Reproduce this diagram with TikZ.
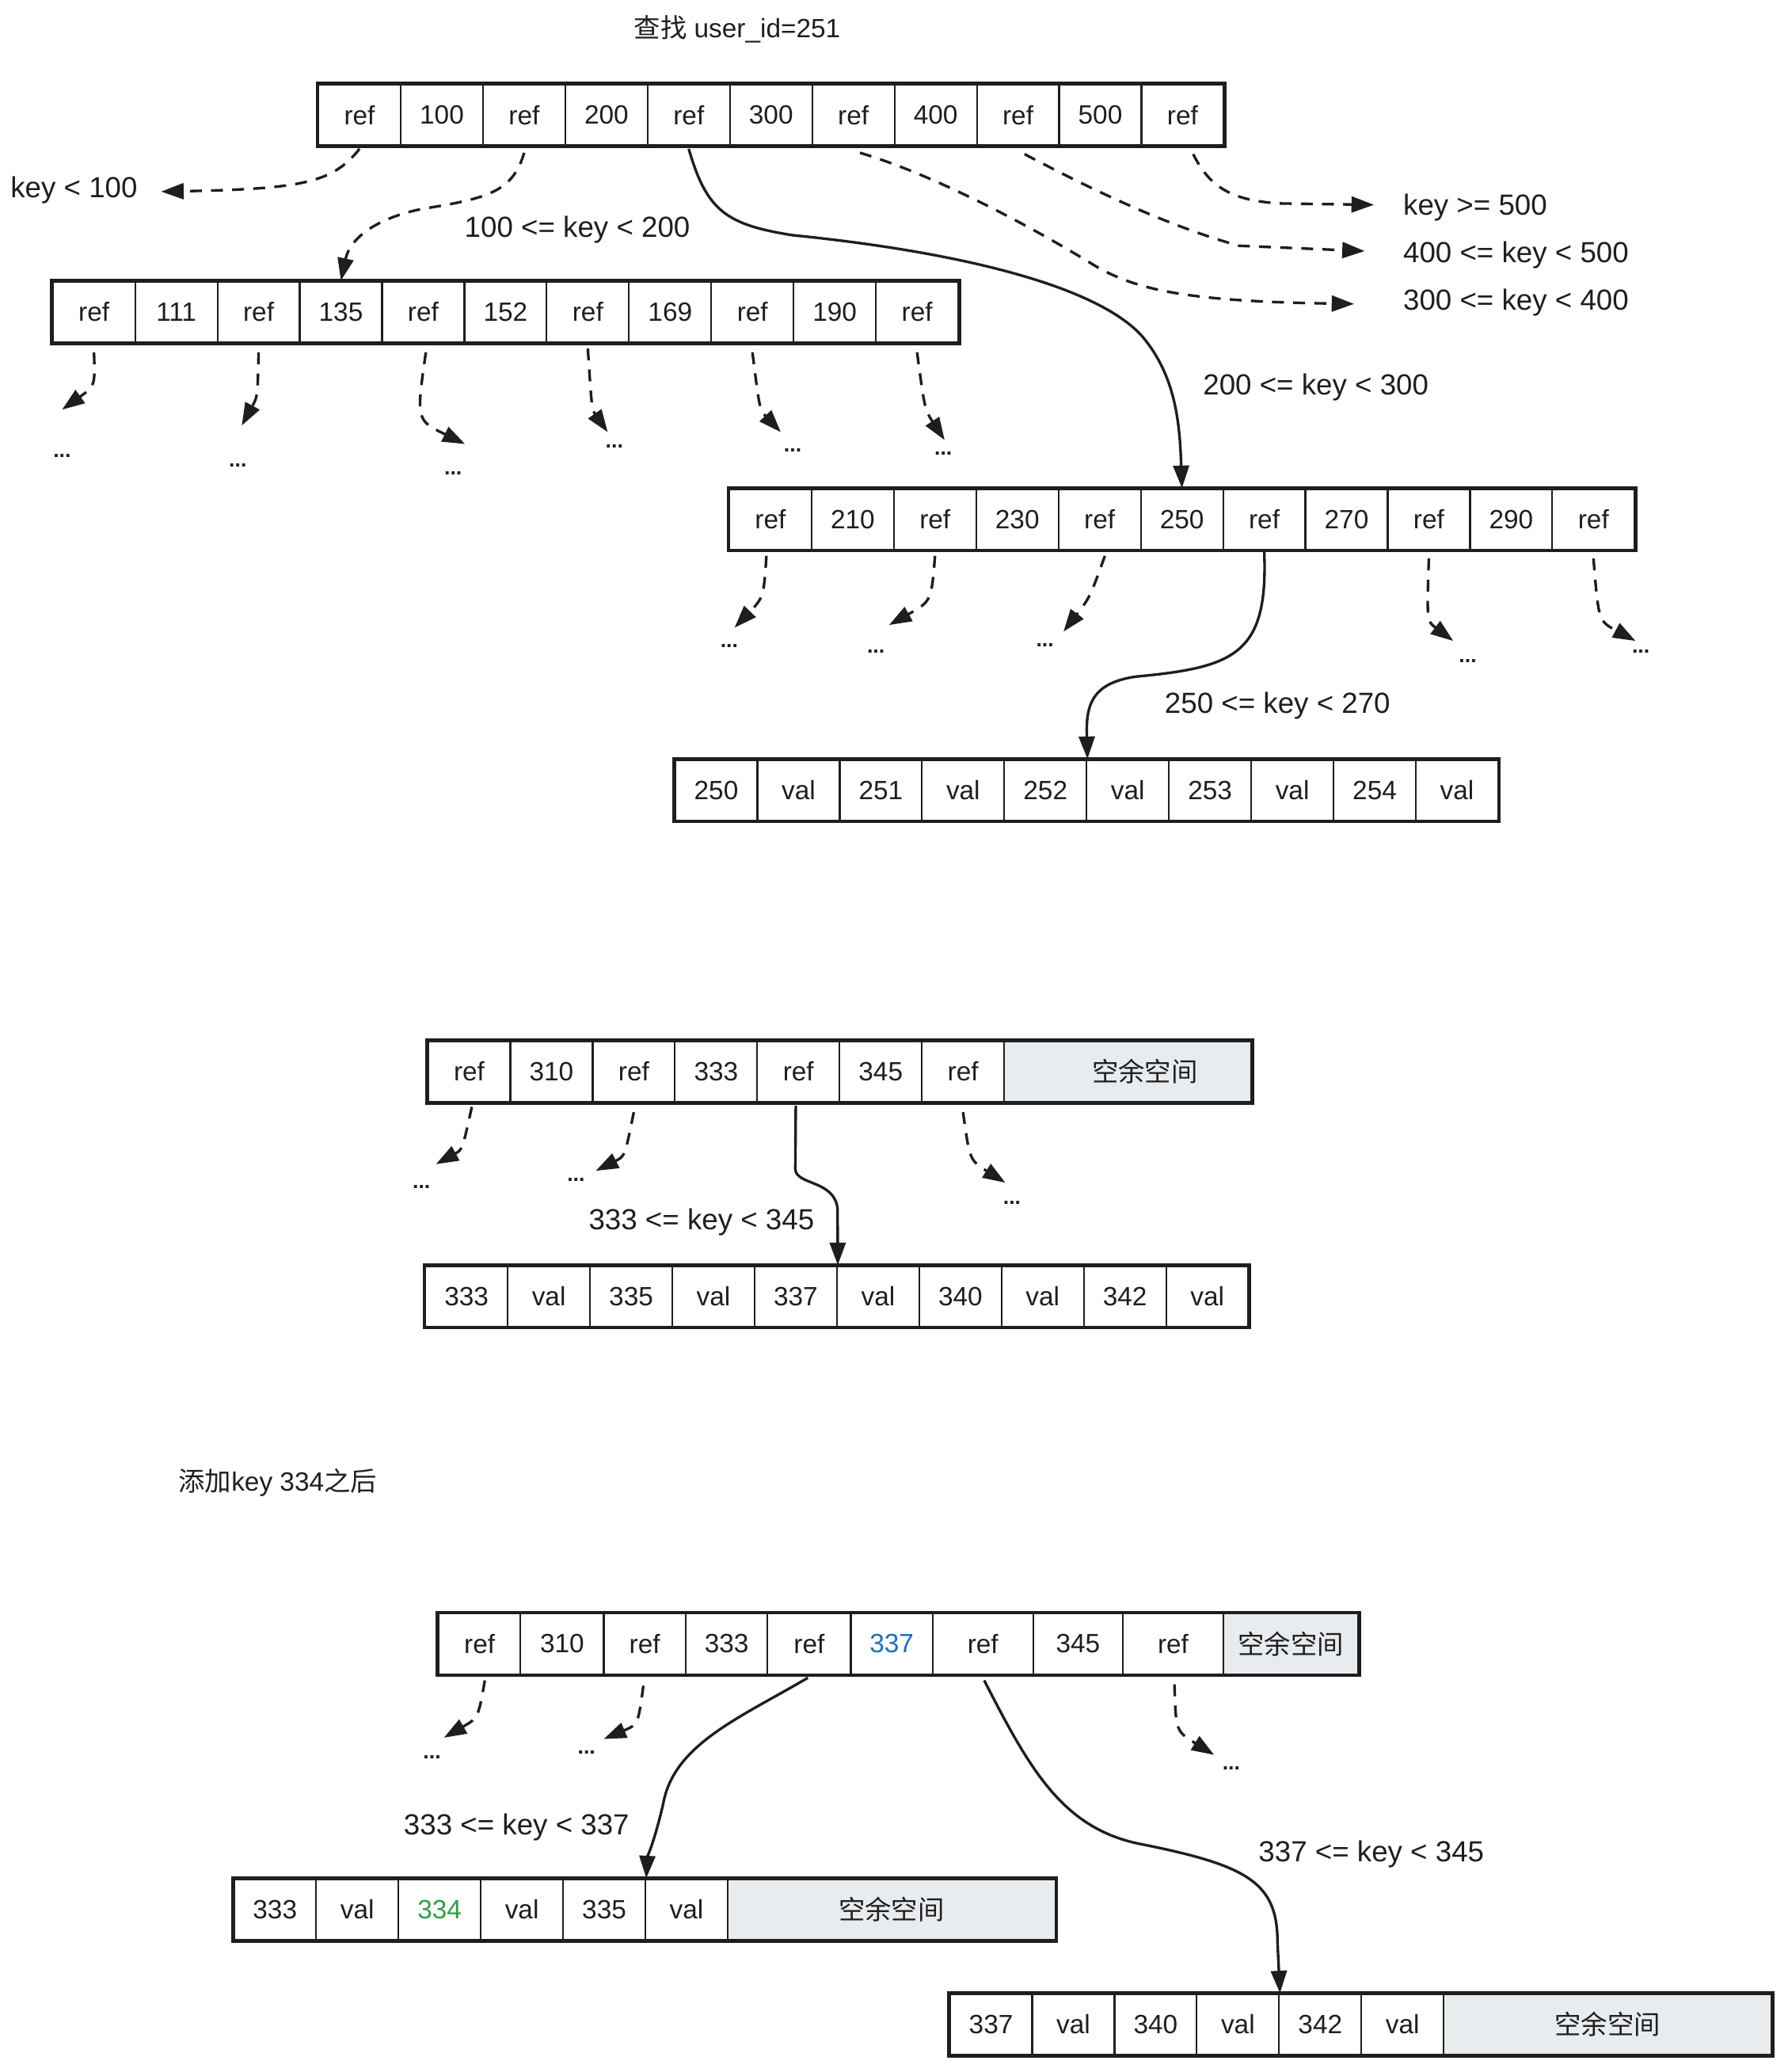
\documentclass[tikz,border=0pt]{standalone}
\usepackage{fontspec}
\setmainfont{Liberation Sans}
\newfontfamily\cjk{Noto Sans CJK SC}
\usetikzlibrary{arrows.meta,calc}
\definecolor{sparefill}{RGB}{233,236,239}
\definecolor{xblue}{RGB}{25,113,194}
\definecolor{xgreen}{RGB}{47,158,68}
\definecolor{ink}{RGB}{30,30,30}
\begin{document}
\begin{tikzpicture}[x=1pt,y=-1pt,
  cell/.style={draw=ink, line width=1.3pt, minimum height=46pt, inner sep=0pt, font=\fontsize{20}{24}\selectfont, text=ink},
  sparecell/.style={cell, fill=sparefill},
  lbl/.style={inner sep=0pt, font=\fontsize{20}{24}\selectfont, text=ink},
  keylbl/.style={inner sep=0pt, font=\fontsize{22}{26}\selectfont, text=ink},
  dotlbl/.style={inner sep=0pt, font=\fontsize{16}{18}\selectfont\bfseries, text=ink},
  link/.style={draw=ink, line width=2pt, -{Triangle[length=17pt,width=12pt]}},
  dlink/.style={link, dash pattern=on 9pt off 7pt},
  frame/.style={draw=ink, line width=2.8pt},
]
\fill[white] (0,0) rectangle (1353,1568);
\useasboundingbox (0,0) rectangle (1353,1568);

% ---------- title ----------
\node[lbl] (title) at (558,22) {{\cjk 查找} user\_id=251};

% ---------- root row ----------
\foreach \t [count=\i] in {ref,100,ref,200,ref,300,ref,400,ref,500,ref}
  \node[cell, minimum width=62.3pt] (R\i) at ({241+62.3*(\i-0.5)},87) {\t};
\draw[frame] (R1.north west) rectangle (R11.south east);

% ---------- left level-2 row ----------
\foreach \t [count=\i] in {ref,111,ref,135,ref,152,ref,169,ref,190,ref}
  \node[cell, minimum width=62.3pt] (L\i) at ({40+62.3*(\i-0.5)},236) {\t};
\draw[frame] (L1.north west) rectangle (L11.south east);

% ---------- middle level-2 row ----------
\foreach \t [count=\i] in {ref,210,ref,230,ref,250,ref,270,ref,290,ref}
  \node[cell, minimum width=62.3pt] (M\i) at ({552+62.3*(\i-0.5)},393) {\t};
\draw[frame] (M1.north west) rectangle (M11.south east);

% ---------- leaf row ----------
\foreach \t [count=\i] in {250,val,251,val,252,val,253,val,254,val}
  \node[cell, minimum width=62.3pt] (V\i) at ({511+62.3*(\i-0.5)},598) {\t};
\draw[frame] (V1.north west) rectangle (V10.south east);

% ---------- labels of first part ----------
\node[keylbl] (k1) at (56,144) {key < 100};
\node[keylbl] (k2) at (437,174) {100 <= key < 200};
\node[keylbl] (k3) at (996,293) {200 <= key < 300};
\node[keylbl, anchor=west] (k6) at (1062,157) {key >= 500};
\node[keylbl, anchor=west] (k5) at (1062,193) {400 <= key < 500};
\node[keylbl, anchor=west] (k4) at (1062,229) {300 <= key < 400};
\node[keylbl] (k7) at (967,534) {250 <= key < 270};

\coordinate (t1) at (122,145);
\coordinate (t4) at (1025,230);
\coordinate (t5) at (1033,190);
\coordinate (t6) at (1040,155);

% root connectors
\draw[dlink] ([yshift=-2pt]R1.south) .. controls (252,138) and (230,143) .. (t1);
\draw[dlink] ([yshift=-5pt]R3.south) .. controls (388,145) and (370,150) .. (320,158) .. controls (285,165) and (265,180) .. (L4.north);
\draw[link] ([yshift=-2pt]R5.south) .. controls (535,160) and (550,170) .. (600,178) .. controls (720,190) and (830,215) .. (865,255) .. controls (890,285) and (893,320) .. (M6.north);
\draw[dlink] ([xshift=5pt,yshift=-5pt]R7.south) .. controls (700,130) and (770,165) .. (827,200) .. controls (860,220) and (900,228) .. (t4);
\draw[dlink] ([xshift=5pt,yshift=-6pt]R9.south) .. controls (820,140) and (880,170) .. (938,186) -- (t5);
\draw[dlink] ([xshift=8pt,yshift=-6pt]R11.south) .. controls (915,140) and (930,152) .. (970,154) -- (t6);

% left row short arrows
\node[dotlbl] (dL1) at (47,345) {...};
\node[dotlbl] (dL3) at (180,352) {...};
\node[dotlbl] (dL5) at (343,358) {...};
\node[dotlbl] (dL7) at (465,338) {...};
\node[dotlbl] (dL9) at (600,341) {...};
\node[dotlbl] (dL11) at (714,343) {...};
\coordinate (eL1) at (47,310);
\coordinate (eL3) at (183,322);
\coordinate (eL5) at (352,336);
\coordinate (eL7) at (460,327);
\coordinate (eL9) at (591,327);
\coordinate (eL11) at (715,333);
\draw[dlink] ([yshift=-7pt]L1.south) .. controls (72,292) .. (eL1);
\draw[dlink] ([yshift=-7pt]L3.south) .. controls (195,300) .. (eL3);
\draw[dlink] ([xshift=2pt,yshift=-7pt]L5.south) .. controls (315,318) .. (eL5);
\draw[dlink] ([yshift=-4pt]L7.south) .. controls (448,310) .. (eL7);
\draw[dlink] ([yshift=-7pt]L9.south) .. controls (575,310) .. (eL9);
\draw[dlink] ([yshift=-7pt]L11.south) .. controls (700,310) .. (eL11);

% middle row arrows
\node[dotlbl] (dM1) at (552,489) {...};
\node[dotlbl] (dM3) at (663,493) {...};
\node[dotlbl] (dM5) at (791,488) {...};
\node[dotlbl] (dM9) at (1111,500) {...};
\node[dotlbl] (dM11) at (1242,493) {...};
\coordinate (eM1) at (556,475);
\coordinate (eM3) at (673,473);
\coordinate (eM5) at (805,478);
\coordinate (eM9) at (1100,485);
\coordinate (eM11) at (1238,485);
\draw[dlink] ([xshift=-3pt,yshift=-4pt]M1.south) .. controls (578,452) .. (eM1);
\draw[dlink] ([yshift=-4pt]M3.south) .. controls (705,455) .. (eM3);
\draw[dlink] ([xshift=4pt,yshift=-4pt]M5.south) .. controls (825,452) .. (eM5);
\draw[link] ([yshift=-1pt]M7.south) .. controls (960,495) and (935,505) .. (860,512) .. controls (825,517) and (822,535) .. (V5.north east);
\draw[dlink] ([yshift=-6pt]M9.south) .. controls (1080,470) .. (eM9);
\draw[dlink] ([yshift=-6pt]M11.south) .. controls (1210,470) .. (eM11);

% ---------- second part ----------
\foreach \t [count=\i] in {ref,310,ref,333,ref,345,ref}
  \node[cell, minimum width=62.3pt] (S\i) at ({324+62.3*(\i-0.5)},811) {\t};
\node[sparecell, minimum width=187pt] (S8) at (853.6,811) {\hspace*{26pt}\cjk 空余空间};
\draw[frame] (S1.north west) rectangle (S8.south east);

\foreach \t [count=\i] in {333,val,335,val,337,val,340,val,342,val}
  \node[cell, minimum width=62.3pt] (T\i) at ({322+62.3*(\i-0.5)},981) {\t};
\draw[frame] (T1.north west) rectangle (T10.south east);

\node[keylbl] (k8) at (531,925) {333 <= key < 345};
\node[dotlbl] (dS1) at (319,898) {...};
\node[dotlbl] (dS3) at (436,893) {...};
\node[dotlbl] (dS7) at (766,910) {...};
\coordinate (eS1) at (330,881);
\coordinate (eS3) at (451,886);
\coordinate (eS7) at (761,895);
\draw[dlink] ([xshift=2pt,yshift=-3pt]S1.south) .. controls (350,870) .. (eS1);
\draw[dlink] ([yshift=-7pt]S3.south) .. controls (473,875) .. (eS3);
\draw[dlink] ([yshift=-7pt]S7.south) .. controls (734,878) .. (eS7);
\draw[link] ([xshift=-2pt,yshift=-2pt]S5.south) -- (602,885) .. controls (603,897) and (632,893) .. (634,915) -- (T5.north east);

% ---------- third part ----------
\node[lbl, anchor=west] (note) at (135,1122) {{\cjk 添加}key 334{\cjk 之后}};

\foreach \t/\a/\b [count=\i] in {ref/332/394, 310/394/457, ref/457/519, 333/519/581, ref/581/644, {\textcolor{xblue}{337}}/644/706, ref/706/782, 345/782/850, ref/850/926}
  \node[cell, minimum width={\b-\a}] (U\i) at ({(\a+\b)/2},1244) {\t};
\node[sparecell, minimum width=102pt] (U10) at (977,1244) {\cjk 空余空间};
\draw[frame] (U1.north west) rectangle (U10.south east);

\foreach \t [count=\i] in {333,val,{\textcolor{xgreen}{334}},val,335,val}
  \node[cell, minimum width=62.3pt] (W\i) at ({177+62.3*(\i-0.5)},1445) {\t};
\node[sparecell, minimum width=248.2pt] (W7) at (674.9,1445) {\cjk 空余空间};
\draw[frame] (W1.north west) rectangle (W7.south east);

\foreach \t [count=\i] in {337,val,340,val,342,val}
  \node[cell, minimum width=62.3pt] (X\i) at ({719+62.3*(\i-0.5)},1532) {\t};
\node[sparecell, minimum width=248.2pt] (X7) at (1216.9,1532) {\cjk 空余空间};
\draw[frame] (X1.north west) rectangle (X7.south east);

\node[keylbl] (k9) at (391,1383) {333 <= key < 337};
\node[keylbl] (k10) at (1038,1403) {337 <= key < 345};

\node[dotlbl] (dU1) at (327,1330) {...};
\node[dotlbl] (dU3) at (444,1326) {...};
\node[dotlbl] (dU9) at (932,1338) {...};
\coordinate (eU1) at (336,1315);
\coordinate (eU3) at (457,1316);
\coordinate (eU9) at (919,1328);
\draw[dlink] ([xshift=4pt,yshift=-4pt]U1.south) .. controls (362,1300) .. (eU1);
\draw[dlink] ([xshift=-1pt,yshift=-8pt]U3.south) .. controls (483,1305) .. (eU3);
\draw[dlink] ([xshift=1pt,yshift=-7pt]U9.south) .. controls (890,1310) .. (eU9);
\draw[link] ([xshift=-1pt,yshift=-2pt]U5.south) .. controls (560,1300) and (510,1320) .. (502,1365) .. controls (495,1395) and (490,1405) .. (W5.north east);
\draw[link] ([xshift=1pt,yshift=-4pt]U7.south) .. controls (780,1340) and (805,1385) .. (866,1396) .. controls (945,1412) and (967,1425) .. (967,1470) -- (X4.north east);
\end{tikzpicture}
\end{document}
